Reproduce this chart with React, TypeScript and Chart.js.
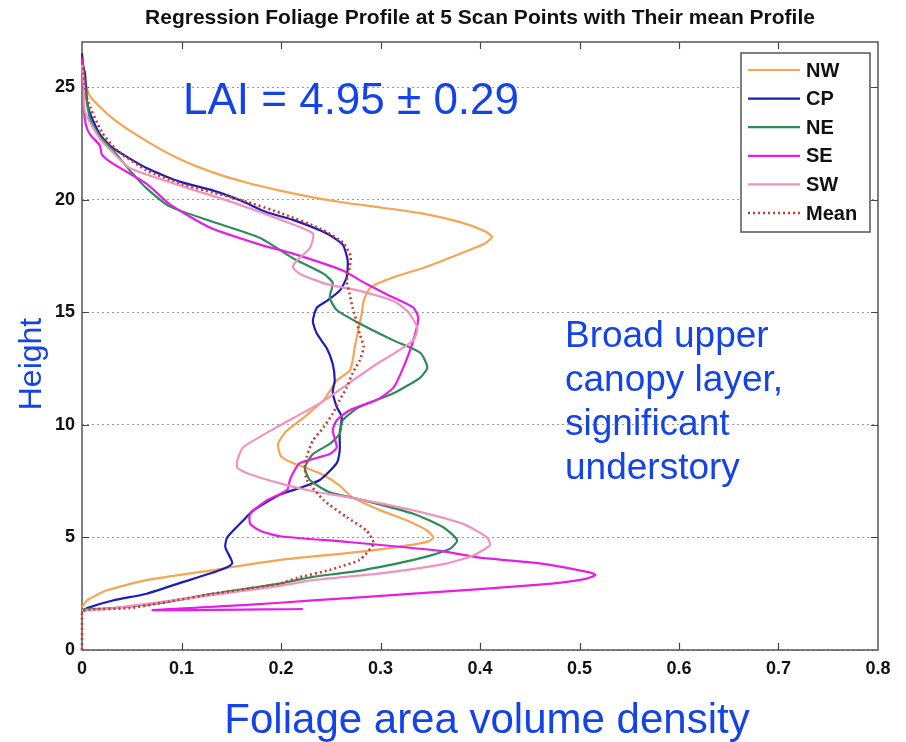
import React, { useEffect, useRef } from "react";
import { Chart, registerables } from "chart.js";

Chart.register(...registerables);

const TITLE = "Regression Foliage Profile at 5 Scan Points with Their mean Profile";
const X_LABEL = "Foliage area volume density";
const Y_LABEL = "Height";
const LAI_TEXT = "LAI = 4.95 \u00b1 0.29";
const NOTE_LINES = ["Broad upper", "canopy layer,", "significant", "understory"];

const SERIES_NAMES = ["NW", "CP", "NE", "SE", "SW", "Mean"];
const SERIES_COLORS = ["#f5a553", "#1c1cb8", "#2e8a5a", "#e41ee4", "#f093c0", "#c83a2e"];

// Heights (m) and foliage densities for each profile, read from top to bottom
const NW_H = [26.4, 25.5, 24.6, 23.6, 22.6, 21.8, 21.2, 20.75, 20.4, 20.1, 19.85, 19.65, 19.4, 19.0, 18.6, 18.35, 18.05, 17.6, 17.0, 16.55, 16.1, 15.5, 14.9, 14.3, 13.4, 12.85, 12.4, 11.97, 11.5, 11.1, 10.4, 9.7, 9.15, 8.6, 8.3, 7.85, 7.3, 6.8, 6.2, 5.76, 5.3, 5.0, 4.8, 4.57, 4.3, 4.0, 3.55, 3.1, 2.65, 2.2, 1.9];
const NW_X = [0, 0.002, 0.008, 0.031, 0.065, 0.098, 0.132, 0.166, 0.199, 0.232, 0.266, 0.3, 0.34, 0.38, 0.405, 0.412, 0.405, 0.38, 0.345, 0.313, 0.29, 0.283, 0.281, 0.278, 0.274, 0.272, 0.269, 0.256, 0.249, 0.243, 0.225, 0.205, 0.197, 0.2, 0.212, 0.239, 0.259, 0.271, 0.3, 0.326, 0.347, 0.353, 0.347, 0.316, 0.266, 0.199, 0.132, 0.065, 0.025, 0.005, 0];

const CP_H = [26.5, 26.0, 25.6, 24.1, 22.9, 22.3, 21.4, 20.8, 20.4, 19.95, 19.45, 19.1, 18.5, 18.0, 17.3, 16.55, 15.96, 15.5, 15.2, 14.6, 14.05, 13.4, 12.7, 11.97, 11.45, 10.8, 10.35, 9.6, 8.87, 8.3, 7.55, 7.2, 6.9, 6.2, 5.75, 5.0, 4.57, 3.85, 3.55, 2.97, 2.5, 2.2, 1.86, 1.7];
const CP_X = [0, 0.001, 0.003, 0.006, 0.018, 0.031, 0.065, 0.098, 0.132, 0.16, 0.185, 0.212, 0.246, 0.262, 0.267, 0.266, 0.259, 0.246, 0.236, 0.232, 0.236, 0.246, 0.252, 0.254, 0.252, 0.256, 0.261, 0.259, 0.259, 0.256, 0.239, 0.219, 0.199, 0.172, 0.162, 0.146, 0.144, 0.151, 0.139, 0.098, 0.065, 0.031, 0.005, 0];

const NE_H = [26.3, 25.0, 23.6, 22.8, 22.2, 21.2, 20.5, 19.7, 19.05, 18.3, 17.4, 16.7, 16.3, 15.65, 15.1, 14.5, 13.75, 13.2, 12.55, 12.1, 11.4, 10.8, 10.2, 9.6, 9.15, 8.7, 8.1, 7.55, 7.0, 6.65, 6.05, 5.45, 4.88, 4.5, 4.0, 3.55, 3.4, 3.25, 2.95, 2.5, 2.1, 1.86, 1.8];
const NE_X = [0, 0.003, 0.008, 0.018, 0.031, 0.05, 0.065, 0.088, 0.129, 0.179, 0.212, 0.243, 0.252, 0.249, 0.256, 0.279, 0.313, 0.34, 0.347, 0.34, 0.313, 0.279, 0.262, 0.259, 0.249, 0.232, 0.224, 0.229, 0.249, 0.283, 0.333, 0.363, 0.377, 0.37, 0.333, 0.283, 0.259, 0.232, 0.199, 0.132, 0.081, 0.031, 0];

const SE_H = [26.2, 25.0, 24.0, 23.3, 22.9, 22.4, 22.0, 21.6, 20.7, 19.8, 18.75, 18.0, 17.6, 16.85, 16.25, 15.65, 15.2, 14.75, 13.75, 12.55, 11.65, 11.1, 10.65, 10.2, 9.75, 9.0, 8.7, 8.3, 7.85, 7.55, 7.1, 6.65, 6.05, 5.6, 5.3, 5.05, 4.8, 4.4, 4.1, 3.85, 3.45, 3.33, 3.15, 2.9, 2.5, 2.2, 2.0, 1.77, 1.82];
const SE_X = [0, 0.002, 0.002, 0.004, 0.008, 0.018, 0.02, 0.031, 0.065, 0.088, 0.129, 0.179, 0.212, 0.262, 0.286, 0.313, 0.333, 0.338, 0.333, 0.323, 0.313, 0.296, 0.269, 0.256, 0.252, 0.256, 0.249, 0.219, 0.212, 0.209, 0.206, 0.186, 0.169, 0.169, 0.179, 0.199, 0.266, 0.36, 0.4, 0.46, 0.51, 0.516, 0.505, 0.46, 0.333, 0.232, 0.166, 0.071, 0.222];

const SW_H = [26.0, 25.0, 23.9, 22.7, 22.1, 21.4, 20.6, 19.9, 19.1, 18.5, 17.85, 17.3, 17.0, 16.7, 16.25, 15.95, 15.5, 15.05, 14.3, 13.75, 13.15, 12.7, 11.65, 10.95, 9.9, 9.0, 8.4, 8.1, 7.85, 7.4, 7.05, 6.8, 6.2, 5.6, 5.0, 4.65, 4.2, 3.85, 3.4, 3.1, 2.85, 2.45, 2.05, 1.8, 1.75];
const SW_X = [0, 0.002, 0.003, 0.018, 0.031, 0.048, 0.1, 0.15, 0.2, 0.232, 0.229, 0.216, 0.212, 0.219, 0.246, 0.279, 0.313, 0.327, 0.337, 0.333, 0.313, 0.296, 0.262, 0.239, 0.196, 0.162, 0.156, 0.156, 0.166, 0.199, 0.232, 0.266, 0.333, 0.383, 0.407, 0.41, 0.393, 0.367, 0.3, 0.232, 0.199, 0.132, 0.065, 0.02, 0];

const MEAN_H = [26.3, 24.5, 23.0, 22.2, 21.3, 20.7, 20.3, 19.9, 19.4, 18.7, 18.1, 17.5, 17.0, 16.4, 15.8, 15.2, 14.6, 14.05, 13.45, 12.85, 12.3, 11.65, 11.1, 10.5, 9.9, 9.3, 8.6, 8.1, 7.55, 6.65, 5.9, 5.3, 4.73, 4.0, 3.7, 3.55, 3.2, 2.95, 2.5, 2.1, 1.86, 1.8, 1.7, 0];
const MEAN_X = [0, 0.005, 0.02, 0.035, 0.065, 0.1, 0.133, 0.166, 0.2, 0.24, 0.262, 0.27, 0.269, 0.266, 0.269, 0.272, 0.276, 0.279, 0.283, 0.279, 0.272, 0.266, 0.259, 0.252, 0.243, 0.232, 0.226, 0.224, 0.226, 0.243, 0.266, 0.286, 0.293, 0.279, 0.259, 0.249, 0.216, 0.199, 0.132, 0.081, 0.048, 0.008, 0, 0];

const X_MIN = 0, X_MAX = 0.8, X_STEP = 0.1;
const Y_MIN = 0, Y_MAX = 27, Y_STEP = 5;

const SERIES_H = [NW_H, CP_H, NE_H, SE_H, SW_H, MEAN_H];
const SERIES_X = [NW_X, CP_X, NE_X, SE_X, SW_X, MEAN_X];

const FONT = "'Liberation Sans', Arial, Helvetica, sans-serif";
const TEXT_BLUE = "#1444e6";

const decorPlugin = {
  id: "decor",
  beforeDatasetsDraw(chart: any) {
    const { ctx, chartArea: a, scales } = chart;
    ctx.save();
    ctx.strokeStyle = "#444";
    ctx.lineWidth = 1.2;
    const tl = 7;
    for (let v = X_MIN + X_STEP; v < X_MAX - 1e-9; v += X_STEP) {
      const px = Math.round(scales.x.getPixelForValue(v)) + 0.5;
      ctx.beginPath();
      ctx.moveTo(px, a.bottom); ctx.lineTo(px, a.bottom - tl);
      ctx.moveTo(px, a.top); ctx.lineTo(px, a.top + tl);
      ctx.stroke();
    }
    for (let v = Y_MIN + Y_STEP; v < Y_MAX; v += Y_STEP) {
      const py = Math.round(scales.y.getPixelForValue(v)) + 0.5;
      ctx.beginPath();
      ctx.moveTo(a.left, py); ctx.lineTo(a.left + tl, py);
      ctx.moveTo(a.right, py); ctx.lineTo(a.right - tl, py);
      ctx.stroke();
    }
    ctx.lineWidth = 1.5;
    ctx.strokeStyle = "#555";
    ctx.strokeRect(a.left, a.top, a.right - a.left, a.bottom - a.top);
    ctx.restore();
  },
  afterDraw(chart: any) {
    const { ctx, chartArea: a } = chart;
    ctx.save();
    ctx.fillStyle = "#111";
    ctx.font = `bold 21px ${FONT}`;
    ctx.textAlign = "center";
    ctx.textBaseline = "middle";
    ctx.fillText(TITLE, (a.left + a.right) / 2, 18);

    ctx.fillStyle = TEXT_BLUE;
    ctx.font = `42px ${FONT}`;
    ctx.textBaseline = "alphabetic";
    ctx.fillText(X_LABEL, 487, 733);

    ctx.save();
    ctx.translate(41, 364);
    ctx.rotate(-Math.PI / 2);
    ctx.font = `32px ${FONT}`;
    ctx.textAlign = "center";
    ctx.textBaseline = "alphabetic";
    ctx.fillText(Y_LABEL, 0, 0);
    ctx.restore();

    ctx.font = `44px ${FONT}`;
    ctx.textAlign = "center";
    ctx.fillText(LAI_TEXT, 351, 114);

    ctx.font = `37px ${FONT}`;
    ctx.textAlign = "left";
    NOTE_LINES.forEach((t, i) => ctx.fillText(t, 565, 347 + i * 44));

    const lx = 741, ly = 53, lw = 129, lh = 179;
    ctx.fillStyle = "#fff";
    ctx.fillRect(lx, ly, lw, lh);
    ctx.strokeStyle = "#555";
    ctx.lineWidth = 1.5;
    ctx.strokeRect(lx, ly, lw, lh);
    ctx.font = `bold 20px ${FONT}`;
    ctx.textBaseline = "middle";
    SERIES_NAMES.forEach((name, i) => {
      const y = 70 + i * 28.6;
      ctx.strokeStyle = SERIES_COLORS[i];
      ctx.lineWidth = i === 5 ? 2.5 : 2.2;
      ctx.setLineDash(i === 5 ? [2, 3] : []);
      ctx.beginPath();
      ctx.moveTo(748, y);
      ctx.lineTo(800, y);
      ctx.stroke();
      ctx.setLineDash([]);
      ctx.fillStyle = "#111";
      ctx.fillText(name, 806, y + 1);
    });
    ctx.restore();
  },
};

export default function App() {
  const ref = useRef<HTMLCanvasElement | null>(null);

  useEffect(() => {
    document.body.style.margin = "0";
    if (!ref.current) return;
    const datasets = SERIES_NAMES.map((name, i) => ({
      label: name,
      data: SERIES_H[i].map((h, j) => ({ x: SERIES_X[i][j], y: h })),
      borderColor: SERIES_COLORS[i],
      backgroundColor: SERIES_COLORS[i],
      borderWidth: i === 5 ? 2.6 : 2.2,
      borderDash: i === 5 ? [2, 3] : [],
      showLine: true,
      pointRadius: 0,
      tension: 0.2,
      clip: false as any,
      order: i === 5 ? 0 : 6 - i,
    }));
    const chart = new Chart(ref.current, {
      type: "scatter",
      data: { datasets },
      options: {
        animation: false,
        responsive: false,
        devicePixelRatio: 1,
        layout: { padding: { top: 42, right: 28, left: 0, bottom: 0 } },
        plugins: { legend: { display: false }, tooltip: { enabled: false }, title: { display: false } },
        scales: {
          x: {
            type: "linear",
            min: X_MIN,
            max: X_MAX,
            ticks: {
              stepSize: X_STEP,
              padding: 8,
              color: "#111",
              font: { family: FONT, size: 18, weight: "bold" },
              maxRotation: 0,
            },
            grid: { display: false, drawTicks: false },
            border: { display: false },
            afterFit: (s: any) => { s.height = 92; },
          },
          y: {
            type: "linear",
            min: Y_MIN,
            max: Y_MAX,
            ticks: {
              stepSize: Y_STEP,
              padding: 7,
              color: "#111",
              font: { family: FONT, size: 18, weight: "bold" },
            },
            afterBuildTicks: (s: any) => { s.ticks = s.ticks.filter((t: any) => t.value % Y_STEP === 0); },
            grid: { color: "#9a9a9a", lineWidth: 1, drawTicks: false },
            border: { display: false, dash: [2, 3] },
            afterFit: (s: any) => { s.width = 82; },
          },
        },
      },
      plugins: [decorPlugin],
    });
    return () => chart.destroy();
  }, []);

  return (
    <div style={{ width: 906, height: 742, background: "#fff" }}>
      <canvas ref={ref} width={906} height={742} style={{ display: "block" }} />
    </div>
  );
}
